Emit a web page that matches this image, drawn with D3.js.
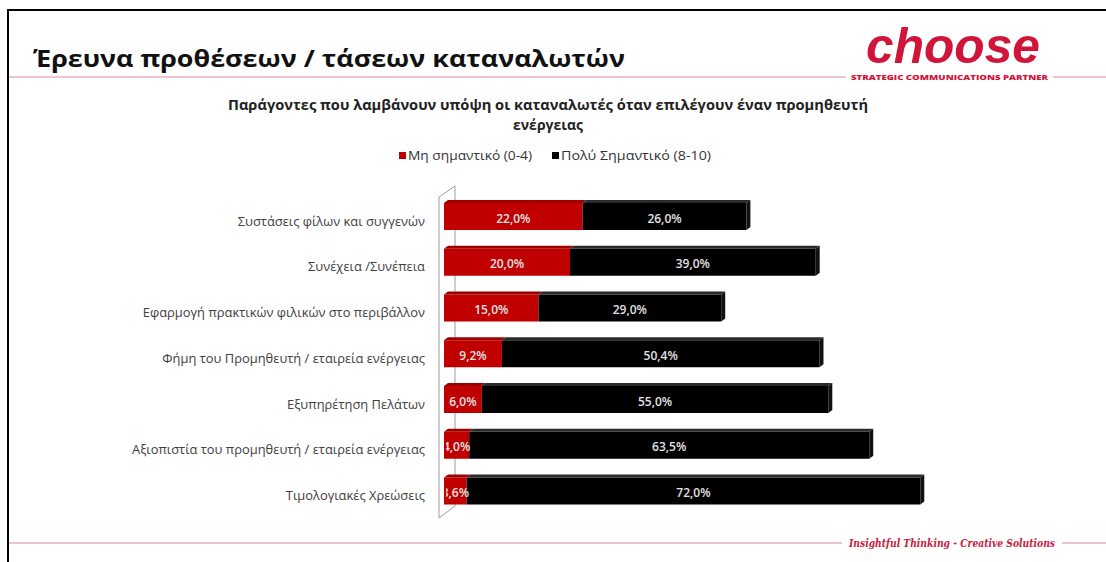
<!DOCTYPE html>
<html>
<head>
<meta charset="utf-8">
<script src="https://cdn.jsdelivr.net/npm/d3@7"></script>
<style>
  html, body { margin: 0; padding: 0; background: #fff; }
  svg { display: block; }
</style>
</head>
<body>
<div id="chart"></div>
<script>
// ---------- data ----------
const pageTitle = "Έρευνα προθέσεων / τάσεων καταναλωτών";
const chartTitleLines = ["Παράγοντες που λαμβάνουν υπόψη οι καταναλωτές όταν επιλέγουν έναν προμηθευτή", "ενέργειας"];
const seriesNames = ["Μη σημαντικό (0-4)", "Πολύ Σημαντικό (8-10)"];
const categories = [
  "Συστάσεις φίλων και συγγενών",
  "Συνέχεια /Συνέπεια",
  "Εφαρμογή πρακτικών φιλικών στο περιβάλλον",
  "Φήμη του Προμηθευτή / εταιρεία ενέργειας",
  "Εξυπηρέτηση Πελάτων",
  "Αξιοπιστία του προμηθευτή / εταιρεία ενέργειας",
  "Τιμολογιακές Χρεώσεις"
];
const notImportant = [22.0, 20.0, 15.0, 9.2, 6.0, 4.0, 3.6];
const veryImportant = [26.0, 39.0, 29.0, 50.4, 55.0, 63.5, 72.0];
const logoText = "choose";
const logoTagline = "STRATEGIC COMMUNICATIONS PARTNER";
const footerText = "Insightful Thinking - Creative Solutions";

// ---------- setup ----------
const W = 1106, H = 562;
const FONT = "'Open Sans', 'Noto Sans', sans-serif";
const RED = "#c00000", RED_TOP = "#9e0000";
const BLK = "#000000", BLK_TOP = "#2a2a2a", BLK_SIDE = "#111111";
const PINK = "#e7b3bd", CRIMSON = "#d0143a";

const svg = d3.select("#chart").append("svg").attr("width", W).attr("height", H)
  .style("font-family", FONT);
svg.append("rect").attr("width", W).attr("height", H).attr("fill", "#fff");

function fit(sel, w) {
  sel.attr("textLength", w).attr("lengthAdjust", "spacingAndGlyphs");
  return sel;
}

// frame
svg.append("line").attr("x1", 8).attr("x2", W).attr("y1", 10).attr("y2", 10)
  .attr("stroke", "#000").attr("stroke-width", 2);
svg.append("line").attr("x1", 8).attr("x2", 8).attr("y1", 9).attr("y2", H)
  .attr("stroke", "#000").attr("stroke-width", 2);

// header
fit(svg.append("text").attr("x", 33).attr("y", 67).attr("font-size", 24).attr("font-weight", 700)
  .attr("fill", "#111").text(pageTitle), 592);

svg.append("line").attr("x1", 9).attr("x2", 846).attr("y1", 77).attr("y2", 77)
  .attr("stroke", PINK).attr("stroke-width", 1.5);
svg.append("line").attr("x1", 1053).attr("x2", W).attr("y1", 77).attr("y2", 77)
  .attr("stroke", PINK).attr("stroke-width", 1.5);

fit(svg.append("text").attr("x", 866).attr("y", 63).attr("font-size", 50).attr("font-weight", 700)
  .attr("font-style", "italic").attr("font-family", "'Liberation Sans', sans-serif")
  .attr("fill", CRIMSON).text(logoText), 174);
fit(svg.append("text").attr("x", 851).attr("y", 80).attr("font-size", 6.5).attr("font-weight", 800)
  .attr("fill", CRIMSON).text(logoTagline), 197);

// chart title
const t1 = svg.append("text").attr("x", 548).attr("y", 110).attr("text-anchor", "middle")
  .attr("font-size", 14).attr("font-weight", 700).attr("fill", "#222").text(chartTitleLines[0]);
fit(t1, 640);
svg.append("text").attr("x", 548).attr("y", 130).attr("text-anchor", "middle")
  .attr("font-size", 14).attr("font-weight", 700).attr("fill", "#222").text(chartTitleLines[1]);

// legend
const legend = [
  { name: seriesNames[0], color: RED, x: 399, w: 124 },
  { name: seriesNames[1], color: BLK, x: 552, w: 150 }
];
legend.forEach(l => {
  svg.append("rect").attr("x", l.x).attr("y", 152).attr("width", 7).attr("height", 7).attr("fill", l.color);
  fit(svg.append("text").attr("x", l.x + 9).attr("y", 160).attr("font-size", 12)
    .attr("fill", "#333").text(l.name), l.w);
});

// scales
const x = d3.scaleLinear().domain([0, 80]).range([444, 948]);
const y = d3.scalePoint().domain(categories).range([216.5, 491]);
const BH = 27, DX = 4, DY = 3;

// 3D back wall
const wall = svg.append("g").attr("stroke", "#9c9c9c").attr("stroke-width", 1).attr("fill", "none");
wall.append("path").attr("d", "M439,197 L455,186 L455,506 L439,518 Z");

// bars
const rows = categories.map((c, i) => ({ cat: c, a: notImportant[i], b: veryImportant[i] }));
const g = svg.append("g");
rows.forEach(r => {
  const yc = y(r.cat), yT = yc - BH / 2, yB = yc + BH / 2;
  const segs = [
    { s: 0, e: r.a, front: RED, top: RED_TOP, side: null },
    { s: r.a, e: r.a + r.b, front: BLK, top: BLK_TOP, side: BLK_SIDE }
  ];
  segs.forEach(sg => {
    const x0 = x(sg.s), x1 = x(sg.e);
    g.append("rect").attr("x", x0).attr("y", yT).attr("width", x1 - x0).attr("height", BH).attr("fill", sg.front);
    g.append("path").attr("d", `M${x0},${yT} L${x0 + DX},${yT - DY} L${x1 + DX},${yT - DY} L${x1},${yT} Z`)
      .attr("fill", sg.top);
    if (sg.side) {
      g.append("path").attr("d", `M${x1},${yT} L${x1 + DX},${yT - DY} L${x1 + DX},${yB - DY} L${x1},${yB} Z`)
        .attr("fill", sg.side);
    }
  });
});

// data labels (clipped at the plot's left edge)
svg.append("clipPath").attr("id", "plotclip").append("rect")
  .attr("x", 446).attr("y", 180).attr("width", 600).attr("height", 340);
const fmt = v => d3.format(".1f")(v).replace(".", ",") + "%";
const lbl = svg.append("g").attr("clip-path", "url(#plotclip)")
  .attr("font-size", 12).attr("font-weight", 600).attr("fill", "#e2e2e2").attr("text-anchor", "middle");
rows.forEach(r => {
  const yc = y(r.cat);
  lbl.append("text").attr("x", (x(0) + x(r.a)) / 2).attr("y", yc + 6).text(fmt(r.a));
  lbl.append("text").attr("x", (x(r.a) + x(r.a + r.b)) / 2).attr("y", yc + 6).text(fmt(r.b));
});

// category labels (uniform horizontal condense to mimic the original font)
const catG = svg.append("g").attr("font-size", 12.5).attr("fill", "#404040");
const probe = catG.append("text").text(categories[5]);
const ratio = 293 / probe.node().getComputedTextLength();
probe.remove();
categories.forEach(c => {
  const t = catG.append("text").attr("y", y(c) + 9).text(c);
  const w = t.node().getComputedTextLength() * ratio;
  t.attr("x", 425 - w);
  fit(t, w);
});

// footer
svg.append("line").attr("x1", 9).attr("x2", 842).attr("y1", 543).attr("y2", 543)
  .attr("stroke", PINK).attr("stroke-width", 1.5);
svg.append("line").attr("x1", 1062).attr("x2", W).attr("y1", 543).attr("y2", 543)
  .attr("stroke", PINK).attr("stroke-width", 1.5);
fit(svg.append("text").attr("x", 849).attr("y", 547).attr("font-size", 11).attr("font-weight", 700)
  .attr("font-style", "italic").attr("font-family", "'DejaVu Serif', serif")
  .attr("fill", "#c8203e").text(footerText), 206);
</script>
</body>
</html>
